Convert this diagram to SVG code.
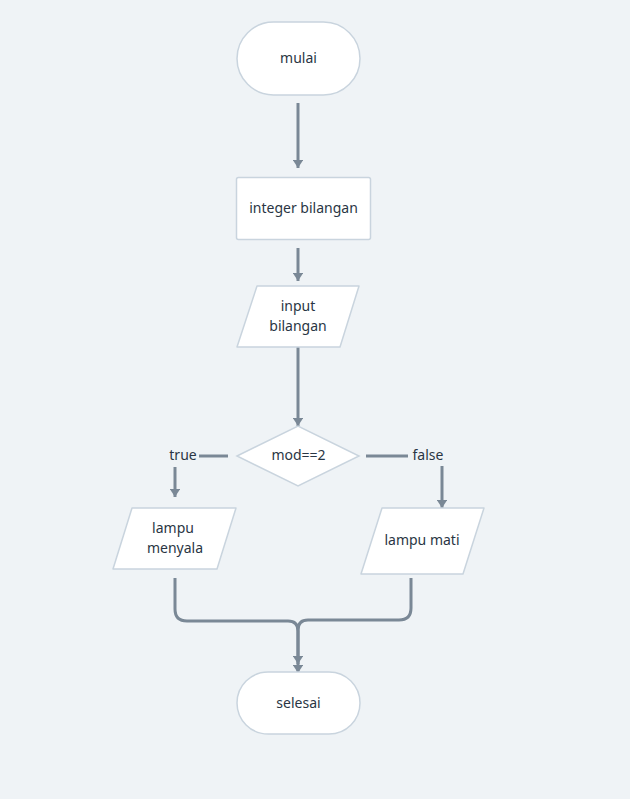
<svg xmlns="http://www.w3.org/2000/svg" width="630" height="799" viewBox="0 0 630 799">
<style>
.n{fill:#ffffff;stroke:#c9d4de;stroke-width:1.5}
.t{font-family:"Noto Sans","DejaVu Sans",sans-serif;font-size:14px;fill:#2a3644;text-anchor:middle}
.c{fill:none;stroke:#7a8896;stroke-width:3;stroke-linejoin:round}
</style>
<defs>
<marker id="ah" viewBox="0 0 10 10" refX="10" refY="5" markerWidth="2.8" markerHeight="3.6" orient="auto" markerUnits="strokeWidth" preserveAspectRatio="none">
<path d="M0,0 L10,5 L0,10 Z" fill="#7a8896"/>
</marker>
</defs>
<rect width="630" height="799" fill="#eff3f6"/>
<g id="connectors">
<path class="c" d="M298,103 V168" marker-end="url(#ah)"/>
<path class="c" d="M298,248 V281" marker-end="url(#ah)"/>
<path class="c" d="M298,347 V426" marker-end="url(#ah)"/>
<path class="c" d="M228,456 H199"/>
<path class="c" d="M175,467 V497" marker-end="url(#ah)"/>
<path class="c" d="M366,456 H408"/>
<path class="c" d="M442,466 V508" marker-end="url(#ah)"/>
<path class="c" d="M175,578 V609 Q175,621 187,621 H288 Q298,621 298,631 V664" marker-end="url(#ah)"/>
<path class="c" d="M411,578 V608 Q411,620 399,620 H308 Q298,620 298,630 V673" marker-end="url(#ah)"/>
</g>
<g id="mulai">
<rect class="n" x="237" y="22" width="123" height="73" rx="36.5"/>
<text class="t" x="298.5" y="63">mulai</text>
</g>
<g id="integer">
<rect class="n" x="236.5" y="177.5" width="134" height="62" rx="2"/>
<text class="t" x="303.5" y="213">integer bilangan</text>
</g>
<g id="input">
<path class="n" d="M257,286 H359 L340,347 H237 Z" stroke-linejoin="round"/>
<text class="t" x="298" y="311">input</text>
<text class="t" x="298" y="331">bilangan</text>
</g>
<g id="decision">
<path class="n" d="M237,456 L298,426 L359,456 L298,486 Z"/>
<text class="t" x="298.5" y="460">mod==2</text>
</g>
<g id="labels">
<text class="t" x="183" y="460">true</text>
<text class="t" x="428" y="460">false</text>
</g>
<g id="menyala">
<path class="n" d="M132,508 H236 L217,569 H113 Z" stroke-linejoin="round"/>
<text class="t" x="173" y="533">lampu</text>
<text class="t" x="175" y="553">menyala</text>
</g>
<g id="mati">
<path class="n" d="M382,508 H484 L463,574 H361 Z" stroke-linejoin="round"/>
<text class="t" x="422" y="545">lampu mati</text>
</g>
<g id="selesai">
<rect class="n" x="237" y="672" width="123" height="62" rx="31"/>
<text class="t" x="298.5" y="708">selesai</text>
</g>
</svg>
